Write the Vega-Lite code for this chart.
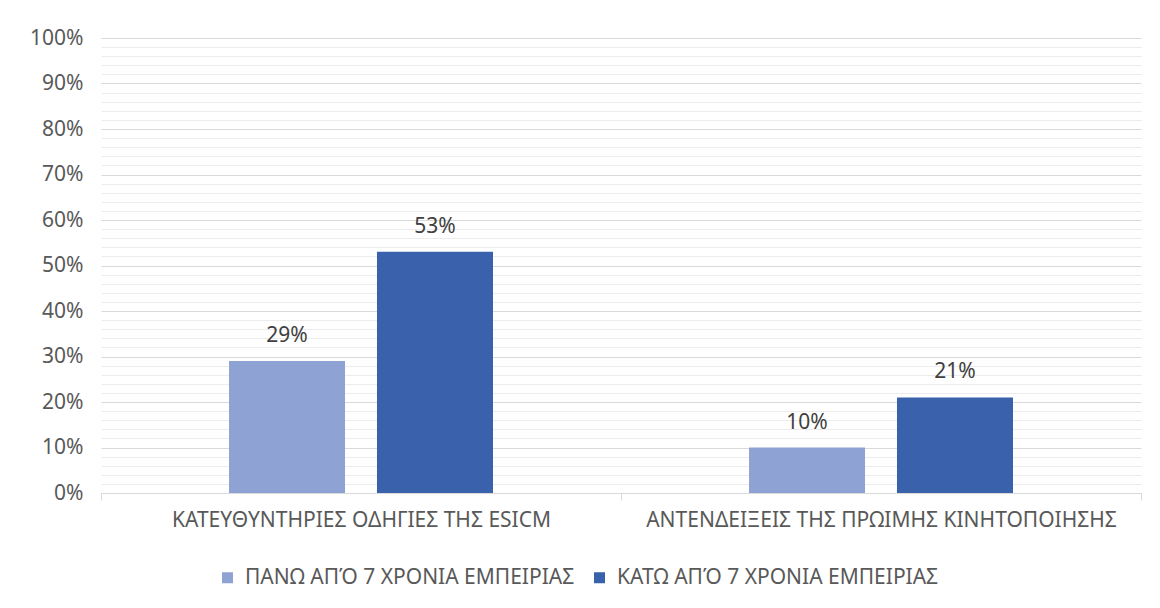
{
  "$schema": "https://vega.github.io/schema/vega-lite/v6.json",
  "width": 1040,
  "height": 455,
  "autosize": {"type": "none"},
  "padding": {"left": 101, "top": 38, "right": 19, "bottom": 115},
  "background": "white",
  "config": {
    "view": {"stroke": null},
    "font": "Noto Sans"
  },
  "data": {
    "values": [
      {"category": "ΚΑΤΕΥΘΥΝΤΗΡΙΕΣ ΟΔΗΓΙΕΣ ΤΗΣ ESICM", "group": "ΠΑΝΩ ΑΠΌ 7 ΧΡΟΝΙΑ ΕΜΠΕΙΡΙΑΣ", "value": 0.29},
      {"category": "ΚΑΤΕΥΘΥΝΤΗΡΙΕΣ ΟΔΗΓΙΕΣ ΤΗΣ ESICM", "group": "ΚΑΤΩ ΑΠΌ 7 ΧΡΟΝΙΑ ΕΜΠΕΙΡΙΑΣ", "value": 0.53},
      {"category": "ΑΝΤΕΝΔΕΙΞΕΙΣ ΤΗΣ ΠΡΩΙΜΗΣ ΚΙΝΗΤΟΠΟΙΗΣΗΣ", "group": "ΠΑΝΩ ΑΠΌ 7 ΧΡΟΝΙΑ ΕΜΠΕΙΡΙΑΣ", "value": 0.10},
      {"category": "ΑΝΤΕΝΔΕΙΞΕΙΣ ΤΗΣ ΠΡΩΙΜΗΣ ΚΙΝΗΤΟΠΟΙΗΣΗΣ", "group": "ΚΑΤΩ ΑΠΌ 7 ΧΡΟΝΙΑ ΕΜΠΕΙΡΙΑΣ", "value": 0.21}
    ]
  },
  "encoding": {
    "x": {
      "field": "category",
      "type": "nominal",
      "sort": null,
      "scale": {"paddingInner": 0, "paddingOuter": 0},
      "axis": {
        "title": null,
        "labelAngle": 0,
        "labelFontSize": 21,
        "labelColor": "#595959",
        "labelPadding": 9,
        "domainColor": "#d9d9d9",
        "tickColor": "#d9d9d9",
        "tickSize": 7,
        "tickBand": "extent",
        "labelLimit": 600
      }
    },
    "xOffset": {
      "field": "group",
      "type": "nominal",
      "sort": null,
      "scale": {"domain": ["ΠΑΝΩ ΑΠΌ 7 ΧΡΟΝΙΑ ΕΜΠΕΙΡΙΑΣ", "ΚΑΤΩ ΑΠΌ 7 ΧΡΟΝΙΑ ΕΜΠΕΙΡΙΑΣ"], "paddingInner": 0.216, "paddingOuter": 0.865}
    }
  },
  "resolve": {"axis": {"y": "independent"}},
  "layer": [
    {
      "mark": {"type": "bar"},
      "encoding": {
        "y": {
          "field": "value",
          "type": "quantitative",
          "scale": {"domain": [0, 1], "nice": false},
          "axis": {
            "orient": "right",
            "title": null,
            "labels": false,
            "ticks": false,
            "domain": false,
            "values": [0.02, 0.04, 0.06, 0.08, 0.12, 0.14, 0.16, 0.18, 0.22, 0.24, 0.26, 0.28, 0.32, 0.34, 0.36, 0.38, 0.42, 0.44, 0.46, 0.48, 0.52, 0.54, 0.56, 0.58, 0.62, 0.64, 0.66, 0.68, 0.72, 0.74, 0.76, 0.78, 0.82, 0.84, 0.86, 0.88, 0.92, 0.94, 0.96, 0.98],
            "grid": true,
            "gridColor": "#ececec",
            "gridWidth": 1,
            "zindex": 0
          }
        },
        "color": {
          "field": "group",
          "type": "nominal",
          "scale": {
            "domain": ["ΠΑΝΩ ΑΠΌ 7 ΧΡΟΝΙΑ ΕΜΠΕΙΡΙΑΣ", "ΚΑΤΩ ΑΠΌ 7 ΧΡΟΝΙΑ ΕΜΠΕΙΡΙΑΣ"],
            "range": ["#8FA2D4", "#3A62AC"]
          },
          "legend": {
            "title": null,
            "orient": "none",
            "legendX": 116,
            "legendY": 529,
            "direction": "horizontal",
            "symbolType": "square",
            "symbolSize": 121,
            "symbolStrokeWidth": 0,
            "symbolOpacity": 1,
            "labelFontSize": 21,
            "labelColor": "#595959",
            "labelOffset": 7,
            "columnPadding": 14,
            "labelLimit": 500
          }
        }
      }
    },
    {
      "mark": {"type": "text", "baseline": "alphabetic", "dy": -19, "fontSize": 21, "color": "#404040"},
      "encoding": {
        "text": {"field": "value", "type": "quantitative", "format": ".0%"},
        "y": {
          "field": "value",
          "type": "quantitative",
          "scale": {"domain": [0, 1], "nice": false},
          "axis": {
            "orient": "left",
            "title": null,
            "format": ".0%",
            "values": [0, 0.1, 0.2, 0.3, 0.4, 0.5, 0.6, 0.7, 0.8, 0.9, 1],
            "labelFontSize": 21,
            "labelColor": "#595959",
            "labelPadding": 18,
            "domain": false,
            "ticks": false,
            "grid": true,
            "gridColor": "#d9d9d9",
            "gridWidth": 1,
            "zindex": 0
          }
        }
      }
    }
  ]
}
